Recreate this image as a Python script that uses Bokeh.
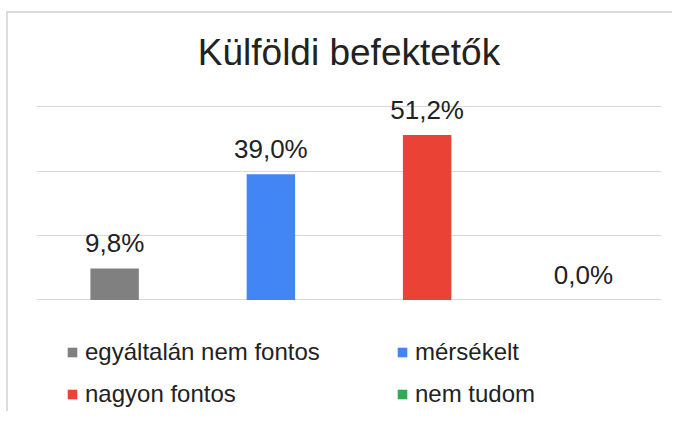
from bokeh.plotting import figure
from bokeh.models import ColumnDataSource, FactorRange, Range1d, FixedTicker, Legend, LegendItem
from bokeh.core.properties import value
from bokeh.embed import file_html
from bokeh.resources import INLINE

title = "Külföldi befektetők"
categories = ["egyáltalán nem fontos", "mérsékelt", "nagyon fontos", "nem tudom"]
values = [9.8, 39.0, 51.2, 0.0]
labels = ["9,8%", "39,0%", "51,2%", "0,0%"]
colors = ["#808080", "#4285f4", "#ea4335", "#34a853"]
grid_ticks = [0, 20, 40, 60]

FONT = "Liberation Sans"

src = ColumnDataSource(dict(cat=categories, val=values, lab=labels, col=colors))

# the frame reaches down to the canvas bottom so the legend sits inside it
p = figure(width=666, height=400, x_range=FactorRange(*categories),
           y_range=Range1d(-35.25, 70), output_backend="svg", toolbar_location=None,
           min_border_left=28, min_border_right=13, min_border_top=61,
           min_border_bottom=0)
p.styles = {"margin-top": "11px", "margin-left": "6px",
            "border-left": "2px solid #dcdcdc", "border-top": "2px solid #dcdcdc"}

p.title.text = title
p.title.align = "center"
p.title.text_font = FONT
p.title.text_font_size = "37px"
p.title.text_font_style = "normal"
p.title.text_color = "#222222"
p.title.standoff = 3
p.title.offset = 3

p.outline_line_color = None
p.xaxis.visible = False
p.yaxis.visible = False
p.xgrid.grid_line_color = None
p.ygrid.ticker = FixedTicker(ticks=grid_ticks)
p.ygrid.grid_line_color = "#d9d9d9"
p.ygrid.grid_line_width = 1
p.x_range.range_padding = 0
p.x_range.group_padding = 0

r = p.vbar(x="cat", top="val", width=0.31, source=src, fill_color="col",
           line_color=None)

p.text(x="cat", y="val", text="lab", source=src, text_align="center",
       text_baseline="alphabetic", y_offset=-25, text_font=value(FONT),
       text_font_size="26px", text_color="#222222")

items = [LegendItem(label=c, renderers=[r], index=i) for i, c in enumerate(categories)]
legend = Legend(items=items, location=(30, -2), orientation="horizontal", ncols=2,
                label_text_font=FONT, label_text_font_size="24px",
                label_text_color="#222222", glyph_width=12, glyph_height=12,
                label_height=42, label_width=311, label_standoff=7, spacing=0,
                padding=0, margin=0, border_line_color=None,
                background_fill_alpha=0)
p.add_layout(legend, "center")

open("out.html", "w").write(file_html(p, INLINE))
